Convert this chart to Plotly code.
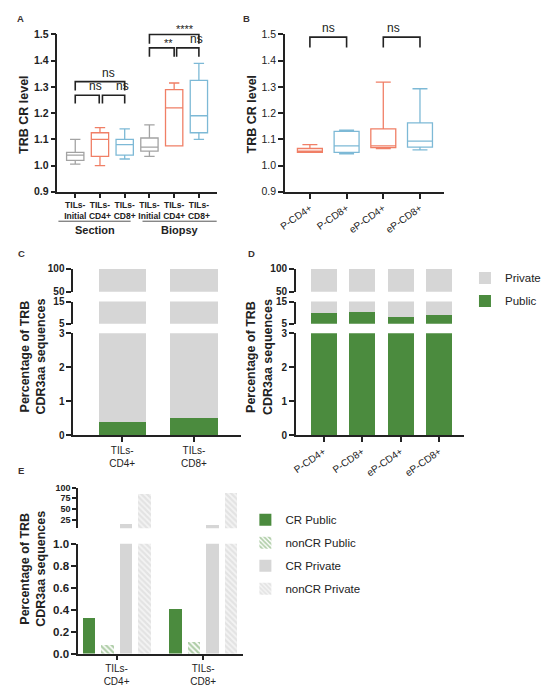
import plotly.graph_objects as go

W, H = 554, 694
FONT = "Liberation Sans, Arial, sans-serif"
INK = "#222222"

GRAY = "#a3a3a3"
ORANGE = "#f07f66"
BLUE = "#7db9d6"
GREEN = "#4b8b3e"
LIGHT = "#d6d6d6"

# ---------------- data ----------------
# A: TRB CR level, section vs biopsy
a_labels = ["TILs-<br>Initial", "TILs-<br>CD4+", "TILs-<br>CD8+",
            "TILs-<br>Initial", "TILs-<br>CD4+", "TILs-<br>CD8+"]
a_low = [1.005, 1.000, 1.025, 1.035, 1.075, 1.100]
a_q1 = [1.020, 1.035, 1.040, 1.055, 1.075, 1.125]
a_med = [1.040, 1.100, 1.080, 1.070, 1.220, 1.190]
a_q3 = [1.050, 1.125, 1.100, 1.105, 1.290, 1.325]
a_high = [1.100, 1.145, 1.140, 1.155, 1.315, 1.390]
a_colors = [GRAY, ORANGE, BLUE, GRAY, ORANGE, BLUE]

# B: TRB CR level, P / eP subsets
b_labels = ["P-CD4+", "P-CD8+", "eP-CD4+", "eP-CD8+"]
b_low = [1.050, 1.045, 1.065, 1.060]
b_q1 = [1.050, 1.050, 1.068, 1.070]
b_med = [1.055, 1.075, 1.075, 1.093]
b_q3 = [1.065, 1.130, 1.140, 1.163]
b_high = [1.080, 1.135, 1.318, 1.293]
b_colors = [ORANGE, BLUE, ORANGE, BLUE]

# C: public / private share, TILs
c_labels = ["TILs-<br>CD4+", "TILs-<br>CD8+"]
c_public = [0.40, 0.50]
c_private = [99.60, 99.50]

# D: public / private share, P / eP
d_labels = ["P-CD4+", "P-CD8+", "eP-CD4+", "eP-CD8+"]
d_public = [9.9, 10.4, 7.8, 8.7]
d_private = [90.1, 89.6, 92.2, 91.3]

# E: CR vs nonCR
e_labels = ["TILs-<br>CD4+", "TILs-<br>CD8+"]
e_cr_public = [0.32, 0.41]
e_noncr_public = [0.08, 0.11]
e_cr_private = [15.5, 11.5]
e_noncr_private = [84.1, 88.0]


# ---------------- geometry helpers (pixels -> paper) ----------------
def dom_x(a, b):
    return [a / W, b / W]


def dom_y(top, bot):
    return [1 - bot / H, 1 - top / H]


PA = dict(x=(52, 213), y=(29, 189), xr=(-0.72, 5.72), yr=(0.9, 1.5))
PB = dict(x=(282, 443), y=(29, 189), xr=(-0.68, 3.66), yr=(0.9, 1.5))


def to_paper(p, xv, yv):
    (x0, x1), (y0, y1) = p["x"], p["y"]
    (xa, xb), (ya, yb) = p["xr"], p["yr"]
    px = x0 + (xv - xa) / (xb - xa) * (x1 - x0)
    py = y1 - (yv - ya) / (yb - ya) * (y1 - y0)
    return px / W, 1 - py / H


shapes = []
annotations = []


def text(px, py, s, size=11, bold=False, angle=0, xanchor="center", yanchor="middle", color=INK):
    annotations.append(dict(
        x=px / W, y=1 - py / H, xref="paper", yref="paper", text=s, showarrow=False,
        textangle=angle, xanchor=xanchor, yanchor=yanchor,
        font=dict(family=FONT, size=size, color=color, weight="bold" if bold else "normal")))


def bracket(p, xa, xb, ytop, yleg, label, size=12, shift=0):
    xl, yt = to_paper(p, xa, ytop)
    xr, yl = to_paper(p, xb, yleg)
    shapes.append(dict(type="path", xref="paper", yref="paper",
                       path=f"M{xl},{yl} L{xl},{yt} L{xr},{yt} L{xr},{yl}",
                       line=dict(color=INK, width=1.6)))
    annotations.append(dict(x=(xl + xr) / 2, y=yt, xref="paper", yref="paper", text=label,
                            showarrow=False, yanchor="bottom", yshift=shift,
                            font=dict(family=FONT, size=size, color=INK)))


def axis(**kw):
    base = dict(showline=True, linecolor=INK, linewidth=1.6, ticks="outside", ticklen=5,
                tickwidth=1.5, tickcolor=INK, showgrid=False, zeroline=False,
                tickfont=dict(family=FONT, size=10.5, color=INK, weight="bold"))
    base.update(kw)
    return base


fig = go.Figure()

# ---------------- A ----------------
for i in range(len(a_labels)):
    fig.add_trace(go.Box(
        x=[i], q1=[a_q1[i]], median=[a_med[i]], q3=[a_q3[i]],
        lowerfence=[a_low[i]], upperfence=[a_high[i]],
        line=dict(color=a_colors[i], width=1.3), fillcolor="rgba(255,255,255,0)",
        width=0.7, whiskerwidth=0.6, boxpoints=False, showlegend=False,
        hoverinfo="skip", xaxis="x", yaxis="y"))

# ---------------- B ----------------
for i in range(len(b_labels)):
    fig.add_trace(go.Box(
        x=[i], q1=[b_q1[i]], median=[b_med[i]], q3=[b_q3[i]],
        lowerfence=[b_low[i]], upperfence=[b_high[i]],
        line=dict(color=b_colors[i], width=1.3), fillcolor="rgba(255,255,255,0)",
        width=0.68, whiskerwidth=0.6, boxpoints=False, showlegend=False,
        hoverinfo="skip", xaxis="x2", yaxis="y2"))

# ---------------- C and D (broken axes: bottom, middle, top) ----------------
for labels, pub, priv, axes, bw, legend in [
    (c_labels, c_public, c_private, [("x3", "y3"), ("x4", "y4"), ("x5", "y5")], 0.66, False),
    (d_labels, d_public, d_private, [("x6", "y6"), ("x7", "y7"), ("x8", "y8")], 0.67, True),
]:
    xs = list(range(len(labels)))
    for k, (xa, ya) in enumerate(axes):
        show = legend and k == 0
        fig.add_trace(go.Bar(x=xs, y=pub, width=bw, marker=dict(color=GREEN, line_width=0),
                             name="Public", showlegend=show, legend="legend", legendrank=2,
                             legendgroup="pub", hoverinfo="skip", xaxis=xa, yaxis=ya))
        fig.add_trace(go.Bar(x=xs, y=priv, width=bw, marker=dict(color=LIGHT, line_width=0),
                             name="Private", showlegend=show, legend="legend", legendrank=1,
                             legendgroup="priv", hoverinfo="skip", xaxis=xa, yaxis=ya))

# ---------------- E (broken axis: bottom, top) ----------------
e_series = [
    ("CR Public", e_cr_public, dict(color=GREEN)),
    ("nonCR Public", e_noncr_public,
     dict(color="white", pattern=dict(shape="\\", fgcolor="#5f9c50", bgcolor="white", size=4, solidity=0.55))),
    ("CR Private", e_cr_private, dict(color=LIGHT)),
    ("nonCR Private", e_noncr_private,
     dict(color="white", pattern=dict(shape="\\", fgcolor="#d2d2d2", bgcolor="#f4f4f4", size=4, solidity=0.55))),
]
e_offsets = [-0.32, -0.107, 0.107, 0.32]
for k, (xa, ya) in enumerate([("x9", "y9"), ("x10", "y10")]):
    for j, (name, vals, mk) in enumerate(e_series):
        fig.add_trace(go.Bar(
            x=[g + e_offsets[j] for g in range(len(e_labels))], y=vals, width=0.145,
            marker=dict(line_width=0, **mk), name=name, showlegend=(k == 0),
            legend="legend2", legendrank=j + 1, legendgroup=name, hoverinfo="skip",
            xaxis=xa, yaxis=ya))

# ---------------- layout: axes ----------------
lay = {}
lay["xaxis"] = axis(domain=dom_x(*PA["x"]), range=list(PA["xr"]), anchor="y",
                    tickvals=list(range(6)), ticktext=a_labels, ticklen=4,
                    tickfont=dict(family=FONT, size=8.5, color=INK, weight="bold"))
lay["yaxis"] = axis(domain=dom_y(*PA["y"]), range=list(PA["yr"]), anchor="x",
                    dtick=0.1, tickformat=".1f")

lay["xaxis2"] = axis(domain=dom_x(*PB["x"]), range=list(PB["xr"]), anchor="y2",
                     tickvals=list(range(4)), ticktext=b_labels, tickangle=-35, ticklen=5,
                     tickfont=dict(family=FONT, size=10, color=INK))
lay["yaxis2"] = axis(domain=dom_y(*PB["y"]), range=list(PB["yr"]), anchor="x2",
                     dtick=0.1, tickformat=".1f", tickfont=dict(family=FONT, size=10.5, color=INK))

seg_font = dict(family=FONT, size=10, color=INK, weight="bold")
seg_y = [((333, 436.7), [0, 3], dict(dtick=1)),
         ((300.7, 323.3), [5, 15], dict(tickvals=[5, 15])),
         ((267.3, 290.7), [50, 100], dict(tickvals=[50, 100]))]
for ids, xdom, xr, labels, tf in [
    ((3, 4, 5), (68, 238), [-0.683, 1.662], c_labels, dict(family=FONT, size=10, color=INK)),
    ((6, 7, 8), (293, 463), [-0.72, 3.64], d_labels, dict(family=FONT, size=10, color=INK)),
]:
    for k, n in enumerate(ids):
        (top, bot), yr, extra = seg_y[k]
        if k == 0:
            xa = axis(domain=dom_x(*xdom), range=xr, anchor=f"y{n}", tickvals=list(range(len(labels))),
                      ticktext=labels, tickfont=tf)
            if n == 6:
                xa["tickangle"] = -35
        else:
            xa = dict(domain=dom_x(*xdom), range=xr, anchor=f"y{n}", visible=False)
        lay[f"xaxis{n}"] = xa
        lay[f"yaxis{n}"] = axis(domain=dom_y(top, bot), range=yr, anchor=f"x{n}",
                                tickfont=seg_font, **extra)

lay["xaxis9"] = axis(domain=dom_x(73, 240), range=[-0.443, 1.465], anchor="y9",
                     tickvals=[0, 1], ticktext=e_labels,
                     tickfont=dict(family=FONT, size=10, color=INK))
lay["yaxis9"] = axis(domain=dom_y(547.3, 659), range=[0, 1], anchor="x9", dtick=0.2,
                     tickformat=".1f", tickfont=dict(family=FONT, size=11.5, color=INK, weight="bold"))
lay["xaxis10"] = dict(domain=dom_x(73, 240), range=[-0.443, 1.465], anchor="y10", visible=False)
lay["yaxis10"] = axis(domain=dom_y(490, 531.4), range=[5, 100], anchor="x10",
                      tickvals=[25, 50, 75, 100], ticklen=4,
                      tickfont=dict(family=FONT, size=9, color=INK, weight="bold"))

# ---------------- significance brackets ----------------
bracket(PA, 0, 0.97, 1.268, 1.237, "ns")
bracket(PA, 1.1, 2, 1.268, 1.237, "ns")
bracket(PA, 0, 2, 1.320, 1.286, "ns")
bracket(PA, 3, 4, 1.449, 1.415, "**", size=11, shift=-3)
bracket(PA, 4.1, 5, 1.449, 1.415, "ns")
bracket(PA, 3, 5, 1.500, 1.465, "****", size=11, shift=-3)
bracket(PB, 0, 1, 1.49, 1.45, "ns")
bracket(PB, 2, 3, 1.49, 1.45, "ns")

# A group labels
for x0, x1, name in [(53, 126, "Section"), (138, 213, "Biopsy")]:
    shapes.append(dict(type="line", xref="paper", yref="paper", x0=x0 / W, x1=x1 / W,
                       y0=1 - 219 / H, y1=1 - 219 / H, line=dict(color="#555555", width=1)))
    text((x0 + x1) / 2, 228, name, size=11, bold=True)

# axis titles
text(18, 110, "TRB CR level", size=12.5, bold=True, angle=-90)
text(249, 110, "TRB CR level", size=12.5, bold=True, angle=-90)
ttl = "Percentage of TRB<br>CDR3aa sequences"
text(27, 357, ttl, size=12.5, bold=True, angle=-90)
text(256, 357, ttl, size=12.5, bold=True, angle=-90)
text(27, 573, ttl, size=12.5, bold=True, angle=-90)

# panel letters
for px, py, s in [(15, 13, "A"), (243, 13, "B"), (16, 252, "C"), (248, 252, "D"), (15, 473, "E")]:
    text(px, py, s, size=9.5, bold=True, color="#3a3030")

fig.update_layout(
    width=W, height=H, margin=dict(l=0, r=0, t=0, b=0),
    paper_bgcolor="white", plot_bgcolor="rgba(0,0,0,0)",
    barmode="stack", showlegend=True,
    font=dict(family=FONT, color=INK),
    shapes=shapes, annotations=annotations,
    legend=dict(x=464 / W, y=1 - 262 / H, xanchor="left", yanchor="top",
                font=dict(family=FONT, size=11.5, color=INK), tracegroupgap=4,
                bgcolor="rgba(0,0,0,0)"),
    legend2=dict(x=242 / W, y=1 - 508 / H, xanchor="left", yanchor="top",
                 font=dict(family=FONT, size=11.5, color=INK), tracegroupgap=4,
                 bgcolor="rgba(0,0,0,0)"),
    **lay,
)

# page margin off so the figure's pixels line up with the window
fig.write_html("out.html", config={"displayModeBar": False},
               post_script="document.body.style.margin='0';")
